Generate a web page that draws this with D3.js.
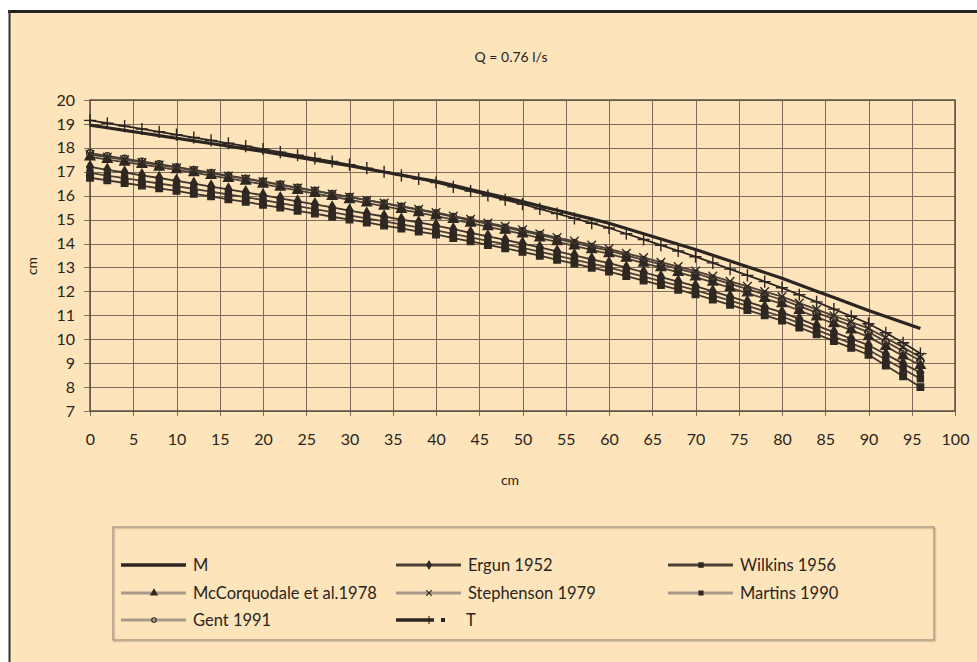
<!DOCTYPE html>
<html lang="en">
<head>
<meta charset="UTF-8">
<title>Q = 0.76 l/s</title>
<script src="https://d3js.org/d3.v7.min.js"></script>
<style>
    body { margin: 0; background: #fff; }
    svg { display: block; }
    text { font-family: Lato, "Open Sans", sans-serif; fill: #2a2420; }
</style>
</head>
<body>
<svg id="svg_main"></svg>
<script>
    const width = 977;
    const height = 662;

    // x positions (cm), one reading every 2 cm
    const xValues = d3.range(0, 97, 2);

    const seriesNames = ["M", "Ergun 1952", "Wilkins 1956", "McCorquodale et al.1978",
        "Stephenson 1979", "Martins 1990", "Gent 1991", "T"];

    const mValues = [18.95, 18.84, 18.73, 18.62, 18.51, 18.40, 18.29, 18.18, 18.07, 17.96,
        17.85, 17.73, 17.61, 17.49, 17.37, 17.25, 17.12, 16.99, 16.86, 16.73,
        16.60, 16.43, 16.26, 16.09, 15.92, 15.75, 15.57, 15.39, 15.21, 15.03,
        14.85, 14.63, 14.41, 14.19, 13.97, 13.75, 13.51, 13.27, 13.03, 12.79,
        12.55, 12.28, 12.01, 11.74, 11.47, 11.20, 10.95, 10.70, 10.45];
    const ergunValues = [17.20, 17.08, 16.97, 16.85, 16.74, 16.62, 16.50, 16.38, 16.26, 16.14,
        16.02, 15.89, 15.76, 15.64, 15.51, 15.38, 15.25, 15.13, 15.00, 14.88,
        14.75, 14.60, 14.45, 14.30, 14.15, 14.00, 13.84, 13.67, 13.51, 13.34,
        13.18, 12.99, 12.80, 12.60, 12.41, 12.22, 12.00, 11.78, 11.56, 11.34,
        11.12, 10.85, 10.57, 10.30, 10.02, 9.75, 9.37, 8.98, 8.60];
    const wilkinsValues = [16.75, 16.64, 16.53, 16.42, 16.31, 16.20, 16.08, 15.97, 15.85, 15.74,
        15.62, 15.50, 15.37, 15.25, 15.12, 15.00, 14.88, 14.75, 14.63, 14.50,
        14.38, 14.23, 14.09, 13.94, 13.80, 13.65, 13.49, 13.32, 13.16, 12.99,
        12.83, 12.64, 12.45, 12.26, 12.07, 11.88, 11.66, 11.44, 11.22, 11.00,
        10.78, 10.49, 10.21, 9.92, 9.64, 9.35, 8.90, 8.45, 8.00];
    const mccorquodaleValues = [17.62, 17.51, 17.40, 17.30, 17.19, 17.08, 16.96, 16.84, 16.72, 16.60,
        16.48, 16.35, 16.22, 16.09, 15.96, 15.83, 15.69, 15.56, 15.42, 15.29,
        15.15, 15.00, 14.85, 14.70, 14.55, 14.40, 14.23, 14.07, 13.90, 13.74,
        13.57, 13.38, 13.18, 12.99, 12.79, 12.60, 12.38, 12.15, 11.93, 11.70,
        11.48, 11.20, 10.93, 10.65, 10.38, 10.10, 9.70, 9.30, 8.90];
    const stephensonValues = [17.72, 17.61, 17.50, 17.39, 17.28, 17.17, 17.05, 16.93, 16.82, 16.70,
        16.58, 16.45, 16.32, 16.20, 16.07, 15.94, 15.81, 15.69, 15.56, 15.43,
        15.30, 15.15, 15.01, 14.86, 14.72, 14.57, 14.41, 14.25, 14.10, 13.94,
        13.78, 13.59, 13.41, 13.22, 13.04, 12.85, 12.64, 12.42, 12.21, 11.99,
        11.78, 11.51, 11.25, 10.98, 10.72, 10.45, 10.06, 9.66, 9.25];
    const martinsValues = [16.95, 16.84, 16.73, 16.62, 16.51, 16.40, 16.28, 16.17, 16.05, 15.94,
        15.82, 15.69, 15.56, 15.44, 15.31, 15.18, 15.05, 14.93, 14.80, 14.68,
        14.55, 14.40, 14.26, 14.11, 13.97, 13.82, 13.66, 13.49, 13.33, 13.16,
        13.00, 12.81, 12.62, 12.43, 12.24, 12.05, 11.83, 11.61, 11.39, 11.17,
        10.95, 10.67, 10.39, 10.11, 9.83, 9.55, 9.15, 8.75, 8.35];
    const gentValues = [17.78, 17.66, 17.55, 17.43, 17.32, 17.20, 17.08, 16.96, 16.84, 16.72,
        16.60, 16.47, 16.34, 16.21, 16.08, 15.95, 15.81, 15.68, 15.54, 15.41,
        15.27, 15.12, 14.97, 14.82, 14.67, 14.52, 14.36, 14.19, 14.03, 13.86,
        13.70, 13.51, 13.32, 13.13, 12.94, 12.75, 12.53, 12.31, 12.09, 11.87,
        11.65, 11.38, 11.11, 10.84, 10.57, 10.30, 9.90, 9.50, 9.10];
    const tValues = [19.15, 19.03, 18.91, 18.79, 18.67, 18.55, 18.43, 18.31, 18.19, 18.07,
        17.95, 17.82, 17.69, 17.56, 17.43, 17.30, 17.15, 17.00, 16.85, 16.70,
        16.55, 16.37, 16.19, 16.01, 15.83, 15.65, 15.45, 15.25, 15.05, 14.85,
        14.65, 14.41, 14.17, 13.93, 13.69, 13.45, 13.19, 12.93, 12.67, 12.41,
        12.15, 11.86, 11.56, 11.26, 10.96, 10.65, 10.27, 9.85, 9.40];

    const xTicks = d3.range(0, 101, 5);
    const yTicks = d3.range(7, 21, 1);

    const ink = "#2f2822";
    const series = [
        { name: seriesNames[0], values: mValues, symbol: null, lineColor: "#2b2420", lineWidth: 3.2, legendColor: "#2b2420" },
        { name: seriesNames[1], values: ergunValues, symbol: d3.symbolDiamond, size: 40, fill: ink, stroke: ink, lineColor: "#3d342c", lineWidth: 1.8, legendColor: "#4a4036" },
        { name: seriesNames[2], values: wilkinsValues, symbol: d3.symbolSquare, size: 42, fill: ink, stroke: ink, lineColor: "#3d342c", lineWidth: 1.8, legendColor: "#4a4036" },
        { name: seriesNames[3], values: mccorquodaleValues, symbol: d3.symbolTriangle, size: 40, fill: ink, stroke: ink, lineColor: "#4a4036", lineWidth: 1.8, legendColor: "#a8998a" },
        { name: seriesNames[4], values: stephensonValues, symbol: d3.symbolTimes, size: 50, stroke: ink, lineColor: "#4a4036", lineWidth: 1.8, legendColor: "#a8998a" },
        { name: seriesNames[5], values: martinsValues, symbol: d3.symbolSquare, size: 36, fill: ink, stroke: ink, lineColor: "#4a4036", lineWidth: 1.8, legendColor: "#a8998a" },
        { name: seriesNames[6], values: gentValues, symbol: d3.symbolCircle, size: 36, stroke: ink, open: true, lineColor: "#4a4036", lineWidth: 1.8, legendColor: "#a8998a" },
        { name: seriesNames[7], values: tValues, symbol: d3.symbolPlus, size: 50, stroke: "#2b2420", lineColor: "#2b2420", lineWidth: 1.8, legendColor: "#2b2420", legendWidth: 3.5 }
    ];

    const svg = d3.select("#svg_main").attr("width", width).attr("height", height);

    // frame
    svg.append("rect").attr("x", 9).attr("y", 11).attr("width", width).attr("height", height)
        .attr("fill", "#fee4ba");
    svg.append("line").attr("x1", 8).attr("x2", width).attr("y1", 11.5).attr("y2", 11.5)
        .attr("stroke", "#222").attr("stroke-width", 3);
    svg.append("line").attr("x1", 9.5).attr("x2", 9.5).attr("y1", 10).attr("y2", height)
        .attr("stroke", "#333").attr("stroke-width", 2);

    const x = d3.scaleLinear().domain([0, 100]).range([90, 955]);
    const y = d3.scaleLinear().domain([7, 20]).range([411, 100]);

    // grid
    const grid = svg.append("g").attr("stroke", "#7d6c5a").attr("stroke-width", 1);
    grid.selectAll(".vg").data(xTicks).enter().append("line")
        .attr("x1", d => Math.round(x(d)) + 0.5).attr("x2", d => Math.round(x(d)) + 0.5)
        .attr("y1", y(20)).attr("y2", y(7) + 5);
    grid.selectAll(".hg").data(yTicks).enter().append("line")
        .attr("x1", x(0) - 6).attr("x2", x(100))
        .attr("y1", d => Math.round(y(d)) + 0.5).attr("y2", d => Math.round(y(d)) + 0.5);
    svg.append("rect").attr("x", x(0)).attr("y", y(20)).attr("width", x(100) - x(0)).attr("height", y(7) - y(20))
        .attr("fill", "none").attr("stroke", "#5e5044").attr("stroke-width", 1.5);

    // axes labels
    const xAxis = d3.axisBottom(x).tickValues(xTicks).tickSize(0).tickPadding(0);
    svg.append("g").attr("transform", `translate(0,${y(7) + 23})`).call(xAxis)
        .call(g => g.select(".domain").remove())
        .selectAll("text").attr("font-size", "16px").attr("fill", "#2a2420")
        .style("font-family", "Lato, sans-serif");
    const yAxis = d3.axisLeft(y).tickValues(yTicks).tickSize(0).tickPadding(0);
    svg.append("g").attr("transform", `translate(${x(0) - 15},0)`).call(yAxis)
        .call(g => g.select(".domain").remove())
        .selectAll("text").attr("font-size", "16px").attr("fill", "#2a2420")
        .style("font-family", "Lato, sans-serif");

    svg.append("text").text("Q = 0.76 l/s").attr("x", 511).attr("y", 62)
        .attr("text-anchor", "middle").attr("font-size", "14px");
    svg.append("text").text("cm").attr("x", 510).attr("y", 485)
        .attr("text-anchor", "middle").attr("font-size", "14px");
    svg.append("text").text("cm").attr("transform", "translate(37,266) rotate(-90)")
        .attr("text-anchor", "middle").attr("font-size", "14px");

    // series
    const line = d3.line().x((d, i) => x(xValues[i])).y(d => y(d));
    const plot = svg.append("g");
    const drawOrder = [2, 5, 1, 3, 6, 4, 7, 0];
    drawOrder.forEach(k => {
        const s = series[k];
        plot.append("path").datum(s.values).attr("d", line)
            .attr("fill", "none").attr("stroke", s.lineColor).attr("stroke-width", s.lineWidth)
            .attr("stroke-linejoin", "round");
        if (s.symbol) {
            plot.append("g").selectAll("path").data(s.values).enter().append("path")
                .attr("transform", (d, i) => `translate(${x(xValues[i])},${y(d)})`)
                .attr("d", d3.symbol().type(s.symbol).size(s.size))
                .attr("fill", s.open ? "none" : (s.fill || "none"))
                .attr("stroke", s.stroke || "none")
                .attr("stroke-width", 1.4);
        }
    });

    // legend
    const legend = svg.append("g");
    legend.append("rect").attr("x", 114.5).attr("y", 528.5).attr("width", 821).attr("height", 113)
        .attr("fill", "none").attr("stroke", "#d9c4a0").attr("stroke-width", 1.5);
    legend.append("rect").attr("x", 113).attr("y", 527).attr("width", 821).attr("height", 113)
        .attr("fill", "none").attr("stroke", "#9b8c7c").attr("stroke-width", 1.2);
    const colX = [121, 396, 668];
    const rowY = [565, 593, 620];
    const items = legend.selectAll(".item").data(series).enter().append("g")
        .attr("transform", (d, i) => `translate(${colX[i % 3]},${rowY[Math.floor(i / 3)]})`);
    items.append("line").attr("x1", 0).attr("x2", 65).attr("y1", 0).attr("y2", 0)
        .attr("stroke", d => d.legendColor)
        .attr("stroke-width", d => d.legendWidth || (d.name === "M" ? 3.5 : 3));
    items.filter(d => d.symbol).append("path")
        .attr("transform", "translate(33,0)")
        .attr("d", d => d3.symbol().type(d.symbol).size(d.size * 0.45)())
        .attr("fill", d => d.open ? "none" : (d.fill || "none"))
        .attr("stroke", d => d.stroke || "none").attr("stroke-width", 1.1);
    items.filter(d => d.name === "T").append("rect")
        .attr("x", 45).attr("y", -2).attr("width", 4).attr("height", 4).attr("fill", "#2b2420");
    items.filter(d => d.name === "T").select("line").attr("x2", 38);
    items.append("text").text(d => d.name)
        .attr("x", d => d.name === "T" ? 70 : 72).attr("y", 6).attr("font-size", "16.5px");
</script>
</body>
</html>
